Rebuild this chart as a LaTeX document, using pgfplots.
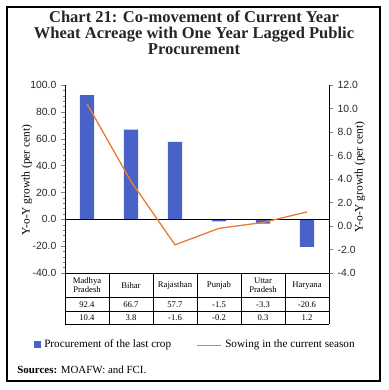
\documentclass[border=0pt]{standalone}
\usepackage{pgfplots}
\pgfplotsset{compat=1.18}
\usepackage{fontspec}
\setmainfont{Liberation Serif}
\newfontfamily\tickfont{Liberation Sans}
\definecolor{barblue}{RGB}{72,98,200}
\definecolor{lineorange}{RGB}{232,125,52}
\definecolor{ticktext}{RGB}{40,40,40}

\begin{document}
\begin{tikzpicture}[x=0.75pt,y=0.75pt]
\path[use as bounding box] (0,0) rectangle (389,390);
\draw[line width=0.8pt] (7,9) rectangle (380,383);
\node[font=\fontsize{12.4}{12.2}\selectfont\bfseries, align=center, text=black!85] at (194,357) {Chart 21: Co-movement of Current Year\\Wheat Acreage with One Year Lagged Public\\Procurement};

\node[rotate=90, font=\fontsize{8.6}{9}\selectfont] at (27,210) {Y-o-Y growth (per cent)};
\node[rotate=90, font=\fontsize{8.6}{9}\selectfont] at (360,213) {Y-o-Y growth (per cent)};

\begin{axis}[
  at={(48.75pt,87.75pt)}, anchor=south west,
  width=198pt, height=141pt, scale only axis,
  xmin=-0.5, xmax=5.5, ymin=-40, ymax=100,
  axis y line*=left, axis x line=none,
  ytick={-40,-20,...,100}, minor y tick num=4,
  tick align=outside, major tick length=3pt, minor tick length=1.5pt,
  yticklabel style={font=\tickfont\fontsize{7.8}{9}\selectfont, text=ticktext,
    /pgf/number format/.cd, fixed, fixed zerofill, precision=1, assume math mode=true},
  clip=false,
  axis line style={line width=0.6pt},
]
\addplot[ybar, bar width=0.32, fill=barblue, draw=none]
  coordinates {(0,92.4) (1,66.7) (2,57.7) (3,-1.5) (4,-3.3) (5,-20.6)};
\addplot[black, line width=0.6pt, forget plot] coordinates {(-0.5,0) (5.5,0)};
% table
\draw[line width=0.5pt] (axis cs:-0.5,-40) -- (axis cs:5.5,-40);
\draw[line width=0.4pt] (axis cs:-0.5,-58.4) -- (axis cs:5.5,-58.4);
\draw[line width=0.4pt] (axis cs:-0.5,-68.3) -- (axis cs:5.5,-68.3);
\draw[line width=0.4pt] (axis cs:-0.5,-78.2) -- (axis cs:5.5,-78.2);
\draw[line width=0.4pt] (axis cs:-0.5,-40) -- (axis cs:-0.5,-78.2);
\draw[line width=0.4pt] (axis cs:0.5,-40) -- (axis cs:0.5,-78.2);
\draw[line width=0.4pt] (axis cs:1.5,-40) -- (axis cs:1.5,-78.2);
\draw[line width=0.4pt] (axis cs:2.5,-40) -- (axis cs:2.5,-78.2);
\draw[line width=0.4pt] (axis cs:3.5,-40) -- (axis cs:3.5,-78.2);
\draw[line width=0.4pt] (axis cs:4.5,-40) -- (axis cs:4.5,-78.2);
\draw[line width=0.4pt] (axis cs:5.5,-40) -- (axis cs:5.5,-78.2);
\tikzset{tcell/.style={font=\fontsize{6.5}{7}\selectfont, align=center}}
\node[tcell] at (axis cs:0,-49.2) {Madhya\\Pradesh};
\node[tcell] at (axis cs:1,-49.2) {Bihar};
\node[tcell] at (axis cs:2,-49.2) {Rajasthan};
\node[tcell] at (axis cs:3,-49.2) {Punjab};
\node[tcell] at (axis cs:4,-49.2) {Uttar\\Pradesh};
\node[tcell] at (axis cs:5,-49.2) {Haryana};
\node[tcell] at (axis cs:0,-63.3) {92.4};
\node[tcell] at (axis cs:1,-63.3) {66.7};
\node[tcell] at (axis cs:2,-63.3) {57.7};
\node[tcell] at (axis cs:3,-63.3) {-1.5};
\node[tcell] at (axis cs:4,-63.3) {-3.3};
\node[tcell] at (axis cs:5,-63.3) {-20.6};
\node[tcell] at (axis cs:0,-73.3) {10.4};
\node[tcell] at (axis cs:1,-73.3) {3.8};
\node[tcell] at (axis cs:2,-73.3) {-1.6};
\node[tcell] at (axis cs:3,-73.3) {-0.2};
\node[tcell] at (axis cs:4,-73.3) {0.3};
\node[tcell] at (axis cs:5,-73.3) {1.2};
\end{axis}

\begin{axis}[
  at={(48.75pt,87.75pt)}, anchor=south west,
  width=198pt, height=141pt, scale only axis,
  xmin=-0.5, xmax=5.5, ymin=-4, ymax=12,
  axis y line*=right, axis x line=none,
  ytick={-4,-2,...,12},
  tick align=outside, major tick length=3pt,
  yticklabel style={font=\tickfont\fontsize{7.8}{9}\selectfont, text=ticktext,
    /pgf/number format/.cd, fixed, fixed zerofill, precision=1, assume math mode=true},
  axis line style={line width=0.6pt},
]
\addplot[lineorange, line width=1pt, mark=none]
  coordinates {(0,10.4) (1,3.8) (2,-1.6) (3,-0.2) (4,0.3) (5,1.2)};
\end{axis}

% legend
\fill[barblue] (34,42) rectangle (41,49);
\node[anchor=west, font=\fontsize{8.4}{9}\selectfont, inner sep=0pt] at (44,45.5) {Procurement of the last crop};
\draw[lineorange, line width=1.4pt] (197,44.5) -- (221,44.5);
\node[anchor=west, font=\fontsize{8.4}{9}\selectfont, inner sep=0pt] at (225,45.5) {Sowing in the current season};
\node[anchor=west, font=\fontsize{8.2}{9}\selectfont, inner sep=0pt] at (17,20) {\textbf{Sources:} MOAFW: and FCI.};
\end{tikzpicture}
\end{document}
